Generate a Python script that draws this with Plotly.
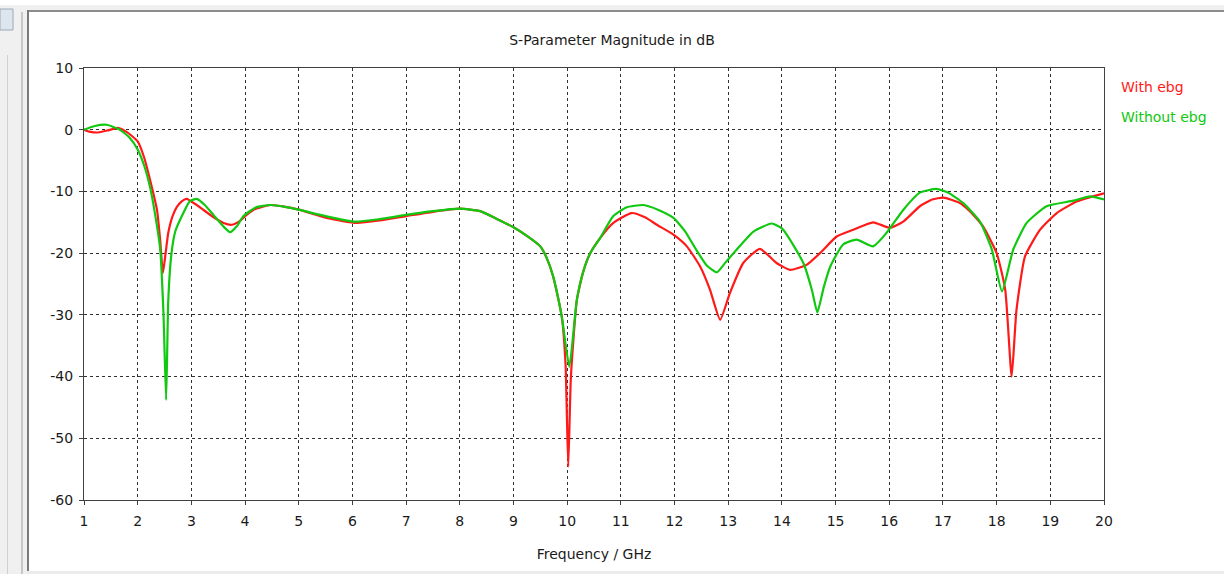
import plotly.graph_objects as go

# ---- data ----
freq_ebg = [1.0, 1.1, 1.26, 1.45, 1.63, 1.8, 2.0, 2.12, 2.23, 2.36, 2.42, 2.47, 2.52, 2.57,
            2.65, 2.73, 2.82, 2.91, 3.1, 3.4, 3.6, 3.75, 3.9, 4.03, 4.2, 4.47, 4.75, 5.02,
            5.52, 6.08, 6.51, 7.0, 7.5, 8.0, 8.38, 8.7, 9.0, 9.25, 9.5, 9.62, 9.74, 9.9,
            9.97, 10.02, 10.07, 10.18, 10.3, 10.43, 10.61, 10.86, 11.2, 11.45, 11.67, 11.98,
            12.23, 12.48, 12.66, 12.85, 13.03, 13.28, 13.59, 13.9, 14.15, 14.46, 14.71, 15.02,
            15.33, 15.7, 16.01, 16.26, 16.57, 16.8, 17.01, 17.3, 17.5, 17.75, 18.0, 18.16,
            18.28, 18.37, 18.53, 18.81, 19.12, 19.5, 20.0]
s11_ebg = [0, -0.3, -0.45, -0.1, 0.3, -0.4, -1.9, -4.5, -8.1, -13, -18, -23.2, -20, -16.7,
           -14, -12.5, -11.6, -11.2, -12.2, -14.1, -15.1, -15.4, -14.8, -13.8, -12.8, -12.2,
           -12.5, -13, -14.3, -15.1, -14.7, -14.0, -13.3, -12.8, -13.2, -14.5, -15.8, -17.2,
           -18.9, -20.8, -23.8, -30.3, -38, -54.6, -40, -27.6, -23, -20, -17.6, -15.1, -13.5,
           -14.2, -15.4, -17, -18.9, -22.2, -25.9, -30.8, -26.5, -21.6, -19.3, -21.6, -22.7,
           -21.9, -20, -17.3, -16.2, -15, -15.9, -14.9, -12.4, -11.3, -11, -11.8, -13.2,
           -15.7, -20, -25.9, -40, -29.2, -20.5, -16.2, -13.5, -11.6, -10.3]

freq_no_ebg = [1.0, 1.2, 1.42, 1.67, 1.85, 2.0, 2.12, 2.23, 2.33, 2.42, 2.48, 2.53, 2.57,
               2.63, 2.7, 2.79, 2.97, 3.1, 3.25, 3.41, 3.6, 3.72, 3.85, 3.97, 4.2, 4.47,
               4.75, 5.02, 5.5, 6.05, 6.5, 7.0, 7.5, 8.0, 8.38, 8.7, 9.0, 9.25, 9.5, 9.62,
               9.74, 9.9, 10.04, 10.18, 10.3, 10.43, 10.61, 10.86, 11.1, 11.42, 11.7, 11.98,
               12.2, 12.4, 12.6, 12.79, 12.95, 13.16, 13.47, 13.81, 14.0, 14.15, 14.4, 14.56,
               14.66, 14.78, 14.9, 15.14, 15.39, 15.7, 15.95, 16.26, 16.57, 16.88, 17.1,
               17.38, 17.69, 17.91, 18.1, 18.31, 18.56, 18.93, 19.43, 19.74, 20.0]
s11_no_ebg = [0, 0.6, 0.8, 0, -1.3, -3.2, -5.8, -9.3, -14, -19.4, -29.7, -43.8, -27.6,
              -20, -16.5, -14.6, -11.6, -11.2, -12.2, -13.8, -15.7, -16.6, -15.6, -14,
              -12.6, -12.2, -12.5, -13, -14, -14.9, -14.5, -13.8, -13.2, -12.8, -13.2,
              -14.5, -15.8, -17.2, -18.9, -20.8, -23.8, -30.3, -38.4, -27.6, -23, -20,
              -17.6, -14, -12.6, -12.2, -13, -14.3, -16.5, -19.4, -22, -23.1, -21.5, -19.4,
              -16.5, -15.2, -16, -17.8, -21.6, -26, -29.6, -25.5, -22.2, -18.6, -17.8,
              -18.9, -16.7, -13, -10.2, -9.6, -10.2, -11.9, -14.9, -19.4, -26.2, -19.4,
              -15.1, -12.4, -11.5, -10.8, -11.3]

x_ticks = list(range(1, 21))
y_ticks = [10, 0, -10, -20, -30, -40, -50, -60]

series_names = ["With ebg", "Without ebg"]
title_text = "S-Parameter Magnitude in dB"
x_title = "Frequency / GHz"

RED = "#ff1a1a"
GREEN = "#10c810"
FONT = "DejaVu Sans"
FS = 14

fig = go.Figure()
fig.add_trace(go.Scatter(x=freq_ebg, y=s11_ebg, mode="lines", name=series_names[0],
                         line=dict(color=RED, width=2.2, shape="spline", smoothing=0.5),
                         showlegend=False))
fig.add_trace(go.Scatter(x=freq_no_ebg, y=s11_no_ebg, mode="lines", name=series_names[1],
                         line=dict(color=GREEN, width=2.2, shape="spline", smoothing=0.5),
                         showlegend=False))

# pixel -> paper helpers for decoration
L, R, T, B = 84, 1104, 68, 500
def px(x):
    return (x - L) / (R - L)
def py(y):
    return (B - y) / (B - T)

shapes = [
    dict(type="rect", xref="paper", yref="paper", x0=px(0), x1=px(1224), y0=py(10), y1=py(5),
         fillcolor="#f0f0f0", line=dict(width=0)),
    dict(type="rect", xref="paper", yref="paper", x0=px(27), x1=px(1224), y0=py(12), y1=py(10),
         fillcolor="#8c8c8c", line=dict(width=0)),
    dict(type="rect", xref="paper", yref="paper", x0=px(0), x1=px(27), y0=py(574), y1=py(5),
         fillcolor="#f0f0f0", line=dict(width=0)),
    dict(type="rect", xref="paper", yref="paper", x0=px(7), x1=px(8), y0=py(574), y1=py(55),
         fillcolor="#d0d0d0", line=dict(width=0)),
    dict(type="rect", xref="paper", yref="paper", x0=px(21), x1=px(23), y0=py(574), y1=py(12),
         fillcolor="#c8c8c8", line=dict(width=0)),
    dict(type="rect", xref="paper", yref="paper", x0=px(27), x1=px(29), y0=py(574), y1=py(10),
         fillcolor="#7a7a7a", line=dict(width=0)),
    dict(type="rect", xref="paper", yref="paper", x0=px(0), x1=px(13), y0=py(30), y1=py(9),
         fillcolor="#dde6ee", line=dict(color="#9aa8b4", width=1)),
    dict(type="rect", xref="paper", yref="paper", x0=px(27), x1=px(1224), y0=py(574), y1=py(571),
         fillcolor="#ececec", line=dict(width=0)),
]

annotations = [
    dict(text=series_names[0], xref="paper", yref="paper", x=px(1119), y=py(87),
         xanchor="left", yanchor="middle", showarrow=False,
         font=dict(family=FONT, size=FS, color=RED)),
    dict(text=series_names[1], xref="paper", yref="paper", x=px(1119), y=py(117),
         xanchor="left", yanchor="middle", showarrow=False,
         font=dict(family=FONT, size=FS, color=GREEN)),
]

axis_common = dict(
    showline=True, linecolor="#404040", linewidth=1, mirror=True,
    ticks="outside", ticklen=4, tickcolor="#404040",
    showgrid=True, gridcolor="#303030", gridwidth=1, griddash="3px,3px",
    zeroline=False, tickfont=dict(family=FONT, size=FS, color="#1a1a1a"),
)

fig.update_layout(
    width=1224, height=574,
    margin=dict(l=L, r=1224 - R, t=T, b=574 - B),
    paper_bgcolor="white", plot_bgcolor="white",
    title=dict(text=title_text, x=px(594), xanchor="center", y=1 - 40 / 574, yanchor="middle",
               font=dict(family=FONT, size=FS, color="#1a1a1a")),
    xaxis=dict(range=[1, 20], tickvals=x_ticks, ticktext=[str(v) for v in x_ticks],
               ticklabelstandoff=4,
               title=dict(text=x_title, font=dict(family=FONT, size=FS, color="#1a1a1a"),
                          standoff=21),
               **axis_common),
    yaxis=dict(range=[-60, 10], tickvals=y_ticks, ticktext=[str(v) for v in y_ticks],
               ticklabelstandoff=3,
               **axis_common),
    shapes=shapes,
    annotations=annotations,
)

fig.write_html("out.html", config={"displayModeBar": False},
               post_script="document.body.style.margin='0';document.body.style.padding='0';")
